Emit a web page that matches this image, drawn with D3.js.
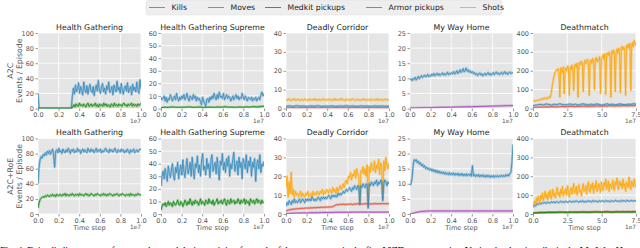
<!DOCTYPE html>
<html><head><meta charset="utf-8">
<script src="https://cdn.jsdelivr.net/npm/d3@7"></script>
<style>body{margin:0;background:#fff}svg{display:block}</style>
</head><body><svg id="c" width="640" height="248"></svg>
<script>
// ---------- DATA ----------
const seriesNames = ["Kills","Moves","Medkit pickups","Armor pickups","Shots"];
const titles = ["Health Gathering","Health Gathering Supreme","Deadly Corridor","My Way Home","Deathmatch"];
const rowLabels = [["A2C","Events / Episode"],["A2C+RoE","Events / Episode"]];
const xMaxes = [1e7,1e7,1e7,1e7,7.5e7];
const yMaxes = [100,60,40,25,400];
const yTickSteps = [20,10,10,5,100];
const xTicksShort = [0,0.2e7,0.4e7,0.6e7,0.8e7,1e7];
const xTicksLong = [0,2.5e7,5e7,7.5e7];

// Row 1: A2C
const hgA2C_moves = [20,1,0.3,0.3,0.3,0.3,0.3,0.3,0.3,0.3,0.3,0.3,0.3,0.3,0.3,0.3,0.3,0.3,0.3,0.3,0.3,0.3,0.3,0.3,0.3,0.3,0.3,0.3,0.3,0.3,0.3,0.3,0.3,16,27,19,31,22,26,34,20,29,24,18,35,25,21,30,19,27,32,23,21,29,17,26,31,23,37,25,20,28,33,22,27,19,30,25,35,21,24,29,18,31,26,22,36,24,28,20,33,25,19,27,30,23,34,21,26,29,18,32,24,28,22,35,25,20,38,26];
const hgA2C_medkit = [1,0.2,0.2,0.2,0.2,0.2,0.2,0.2,0.2,0.2,0.2,0.2,0.2,0.2,0.2,0.2,0.2,0.2,0.2,0.2,0.2,0.2,0.2,0.2,0.2,0.2,0.2,0.2,0.2,0.2,0.2,0.2,0.2,3,5,2,6,4,3,7,4,5,3,6,4,2,5,7,3,4,6,3,5,4,7,3,5,2,6,4,5,3,7,4,6,3,5,4,2,6,5,3,7,4,5,3,6,4,5,3,6,7,4,5,3,6,4,5,7,3,6,4,5,3,6,4,5,7];
const hgA2C_shots = [0.8,0.6,0.7,0.5,0.6,0.8,0.7,0.6,0.9,0.7,0.8,0.6,0.9,0.7,0.8,1,0.7,0.9,0.8,1,0.9];
const hgsA2C_moves = [9,7,8,10,6,9,5,8,7,11,9,6,8,10,7,12,8,6,9,7,10,8,11,7,9,12,8,6,10,9,7,11,8,10,6,9,7,8,5,3,9,6,4,2,7,8,5,9,7,10,8,12,9,7,11,8,13,9,10,8,12,7,9,11,8,10,9,6,8,10,7,9,11,8,10,7,9,8,12,9,7,10,8,6,9,8,7,9,6,8,7,9,6,8,9,7,11,13,10,12];
const hgsA2C_medkit = [0.5,1,0.8,1.2,1,0.9,1.1,1,1.3,0.9,1,1.2,0.8,1,1.1,0.9,1.2,1,1.4,1,1.1,0.9,1.2,1,1.3,1.1,1.5,1.2,1.6,1.8];
const dcA2C_shots = [4.2,4.8,4.4,5.1,4.5,4.1,4.9,4.6,5.2,4.3,4.7,4.4,5,4.5,4.2,4.9,4.6,4.3,5.1,4.7,4.4,4.8,4.2,5,4.6,4.4,4.9,4.5,5.2,4.3,4.7,4.5,4.9,4.2,4.8,4.6,5.1,4.4,4.7,4.3,4.9,4.5,5,4.6,4.2,4.8,4.4,5.2,4.5,4.7,4.3,4.9,4.6,5.3,4.4,4.8,4.5,4.2,5,4.6,4.4,4.9,4.3,4.7,5.1,4.5,4.8,4.2,4.6,5,4.4,4.7,4.3,4.9,4.5,5.1,4.6,4.2,4.8,4.4,4.7,5,4.3,4.6,4.9,4.4,4.8,4.5,5.2,4.3,4.7,4.5,4.9,4.2,4.6,5,4.4,4.8,4.5,4.6];
const dcA2C_moves = [1.2,1.4,1.1,1.5,1.2,1.3,1.1,1.4,1.2,1.5,1.1,1.3,1.2,1.4,1.1,1.3,1.2,1.5,1.2,1.3,1.1,1.4,1.2,1.3,1.1,1.4,1.2,1.3,1.2,1.3];
const dcA2C_kills = [0.3,0.4,0.3,0.4,0.3,0.4,0.3,0.4,0.3,0.4,0.3,0.4,0.3,0.4,0.3,0.4,0.3,0.4,0.3,0.4];
const mwhA2C_moves = [9.5,9.8,9.2,10,9.6,10.3,9.4,10.1,10.6,9.8,10.4,10.9,10.2,10.6,11.1,10.4,10.8,11.3,10.5,11,10.7,11.4,10.9,11.6,10.8,11.2,11.7,11,11.5,10.9,11.3,11.8,11.1,11.6,11,11.4,12,11.2,11.7,11.3,11.9,11.5,12.2,11.4,11.8,12.5,11.6,12.1,12.8,11.9,12.4,13.2,12.1,12.6,13.4,12.3,12.8,12,12.5,11.8,12.2,11.5,11.9,11.2,11.6,10.9,11.4,11.8,11.1,11.5,10.8,11.3,11.7,11,11.4,11.9,11.2,11.6,11,11.5,11.9,11.2,11.7,12.1,11.4,11.8,11.2,11.6,12,11.3,11.7,12.2,11.5,11.9,11.3,11.8,12.1,11.5,11.9,11.6];
const mwhA2C_armor = [0.2,0.2,0.25,0.3,0.3,0.35,0.4,0.4,0.45,0.5,0.55,0.6,0.6,0.65,0.7,0.75,0.8,0.85,0.9,0.95,1];
const dmA2C_shots = [38,40,42,39,44,41,46,43,48,45,52,47,55,50,58,53,49,60,55,62,58,80,110,140,165,185,195,205,200,210,195,60,215,200,190,220,80,205,215,198,225,210,70,220,205,230,212,95,225,235,218,240,60,228,245,232,250,238,90,242,255,236,248,260,245,70,252,258,240,265,250,100,258,270,246,262,255,275,80,262,270,285,260,290,75,278,295,282,300,270,60,305,288,310,295,90,300,315,292,320,305,85,318,330,310,325,312,70,335,322,340,318,345,95,330,350,325,360,338,345];
const dmA2C_moves = [15,18,20,22,19,24,21,18,23,20,25,22,19,21,24,20,23,18,22,25,21,19,23,20,24,22,18,21,25,20,23,19,22,24,21,20,23,22,25,24];
const dmA2C_kills = [5,6,7,8,7,9,8,10,9,8,10,11,9,10,12,11,10,12,11,13,12,11,13,12,14,13,12,14,13,15,14,13,15,14,16,15,14,16,15,17];

// Row 2: A2C+RoE
const hgRoE_moves = [40,62,72,76,74,79,77,81,78,83,80,84,79,82,86,78,62,83,85,81,87,82,84,80,86,83,81,85,82,87,84,80,85,83,86,81,84,82,87,83,85,80,84,86,82,85,83,81,87,84,82,86,83,85,81,84,87,82,85,83,86,81,84,82,85,87,83,84,81,86,83,85,82,84,87,83,81,85,84,82,86,83,85,81,84,82,86,83,80,85,82,84,86,81,83,85,82,84,86,85];
const hgRoE_medkit = [8,15,19,21,22,23,22,24,23,25,24,23,25,24,26,24,25,23,26,25,24,26,25,24,26,25,27,24,26,25,24,26,25,27,25,24,26,25,26,24,27,25,26,25,24,26,27,25,26,24,25,27,26,25,24,26,25,27,26,25,24,26,25,27,25,26,24,26,25,27,26,25,24,26,25,26,27,25,24,26,25,27,26,25,24,26,25,26,24,27,25,26,25,24,26,25,27,26,25,26];
const hgsRoE_moves = [22,30,34,28,36,31,26,38,33,29,35,40,30,27,37,33,41,28,35,39,31,43,34,29,38,44,32,36,41,30,45,35,28,40,37,46,33,39,30,42,48,35,38,31,44,36,40,29,43,47,34,38,41,32,45,37,27,42,39,48,35,41,33,44,38,46,30,40,36,43,49,34,39,42,31,45,37,41,28,44,40,36,47,33,42,38,45,30,41,37,44,26,39,43,36,47,33,40,38,42];
const hgsRoE_medkit = [3,6,8,7,9,6,8,10,7,9,8,6,10,8,7,9,11,8,7,10,9,6,8,11,9,7,10,8,12,9,7,10,8,11,9,10,7,9,12,8,10,9,7,11,10,8,12,9,10,8,11,7,9,10,12,8,10,9,11,8,10,12,9,7,11,10,8,12,9,10,11,8,10,9,12,10,8,11,9,10,12,8,11,9,10,7,12,10,9,11,8,10,12,9,11,10,8,11,9,10];
const dcRoE_shots = [14,20,9,17,11,22,10,13,9,12,10,11,9,10,12,9,11,10,9,11,10,12,9,10,11,9,12,10,11,10,12,11,10,12,11,13,10,12,11,13,12,11,13,12,11,14,12,13,11,14,12,13,15,13,14,16,14,17,18,16,20,19,22,18,21,20,23,19,24,21,20,6,23,22,25,21,24,20,26,4,25,22,27,24,23,28,22,26,24,29,21,27,25,8,28,23,30,26,24,27];
const dcRoE_moves = [4,6,5,7,6,5,7,6,8,6,7,6,7,8,6,7,8,7,6,8,7,8,7,8,7,9,8,7,8,7,8,9,8,7,9,8,9,8,9,8,9,10,9,8,10,9,10,9,10,9,11,10,11,10,11,12,11,12,13,12,13,14,13,12,14,13,15,14,13,15,14,5,15,14,16,15,14,16,15,3,16,15,17,16,15,17,16,18,15,17,16,18,17,7,16,18,17,15,17,16];
const dcRoE_kills = [1.5,2,2.2,2.4,2.5,2.6,2.8,2.7,2.9,3,3,3.1,3.2,3.1,3.3,3.2,3.4,3.3,3.5,3.4,3.6,3.5,3.6,3.7,3.6,3.8,3.7,4,4.5,5,4.8,5.2,5,5.3,4.9,5.2,5.1,5.4,5,5.3,5.2,5.5,5.1,5.4,5.2,5.5,5.3,5.6,5.2,5.4,5.3,5.6,5.4,5.5,5.3,5.6,5.4,5.5,5.4,5.6];
const dcRoE_armor = [0.2,0.3,0.4,0.5,0.5,0.6,0.6,0.7,0.7,0.7,0.8,0.8,0.8,0.8,0.9,0.9,0.9,0.9,0.9,1,1,1,1,1,1,1,1,1,1,1];
const mwhRoE_moves = [9.5,10,12,16,18,17.5,18,17,17.5,16.5,17,16,16.5,15.5,16,15,15.5,14.8,15.2,14.5,15,14.2,14.8,14,14.6,13.8,14.4,13.6,14.2,13.5,14,13.4,13.9,13.2,13.8,13.1,13.6,13,13.7,12.9,13.5,13,13.6,12.8,13.4,12.9,13.5,12.7,13.3,12.8,13.4,12.6,13.2,12.7,13.3,12.6,13.2,12.8,13.3,12.5,16,12.6,13.1,12.4,13,12.5,13.1,12.3,12.9,12.4,13,12.3,12.8,12.2,12.9,12.3,12.8,12.1,12.7,12.2,12.8,12.1,12.7,12.3,12.8,12.2,12.7,12.4,12.9,12.3,12.8,12.4,13,12.5,13.1,12.6,13.4,13.8,17,23];
const mwhRoE_armor = [0,0.3,0.6,0.8,0.9,1,1,1,1,1,1,1,1,1,1,1,1,1,1,1,1,1,1,1,1,1,1,1,1,1];
const dmRoE_shots = [40,55,70,50,85,65,95,75,60,100,80,110,70,95,120,85,105,75,115,90,125,80,100,130,95,110,85,120,140,100,115,90,130,105,145,95,120,110,135,100,150,115,90,125,140,105,130,160,110,120,145,100,135,155,115,125,95,140,160,120,130,150,105,145,170,125,115,155,135,165,110,150,140,175,120,130,160,145,115,170,140,125,165,150,185,130,145,175,120,160,150,135,180,145,125,170,155,190,140,130,175,150,165,135,185,145,160,120,170,155,140,195,150,130,175,160,145,185,155,140];
const dmRoE_moves = [35,48,42,55,50,58,52,60,57,62,55,63,60,58,65,61,64,59,66,62,60,67,63,65,61,68,64,62,69,65,63,67,64,70,66,62,68,65,71,63,67,64,70,66,68,63,72,65,69,67,64,71,66,70,68,65,72,67,69,64,71,68,66,73,69,67,70,65,72,68,71,66,73,69,67,72,70,68,71,69];
const dmRoE_kills = [5,6,7,8,9,8,9,10,9,10,11,10,9,10,11,10,11,10,11,12,11,10,11,12,11,12,11,12,13,12,11,12,13,12,13,12,13,12,13,13];
const dmRoE_medkit = [4,6,7,8,7,8,9,8,9,8,9,10,9,8,9,10,9,10,9,10,9,10,9,10,11,10,9,10,11,10,9,10,11,10,11,10,11,10,11,10];

// ---------- BUILD ----------
const colors = {"Kills":"#E24A33","Moves":"#348ABD","Medkit pickups":"#108a10","Armor pickups":"#a848b8","Shots":"#FFA500"};
const panelSeries = [
  [ {"Shots":hgA2C_shots,"Moves":hgA2C_moves,"Medkit pickups":hgA2C_medkit},
    {"Moves":hgsA2C_moves,"Medkit pickups":hgsA2C_medkit},
    {"Kills":dcA2C_kills,"Moves":dcA2C_moves,"Shots":dcA2C_shots},
    {"Moves":mwhA2C_moves,"Armor pickups":mwhA2C_armor},
    {"Kills":dmA2C_kills,"Moves":dmA2C_moves,"Shots":dmA2C_shots} ],
  [ {"Moves":hgRoE_moves,"Medkit pickups":hgRoE_medkit},
    {"Moves":hgsRoE_moves,"Medkit pickups":hgsRoE_medkit},
    {"Kills":dcRoE_kills,"Moves":dcRoE_moves,"Armor pickups":dcRoE_armor,"Shots":dcRoE_shots},
    {"Moves":mwhRoE_moves,"Armor pickups":mwhRoE_armor},
    {"Kills":dmRoE_kills,"Medkit pickups":dmRoE_medkit,"Moves":dmRoE_moves,"Shots":dmRoE_shots} ]
];
const drawOrder = ["Shots","Kills","Moves","Medkit pickups","Armor pickups"];
const dmOrder = ["Kills","Medkit pickups","Moves","Shots"];

const svg = d3.select("#c");
const FONT = "DejaVu Sans";
const lefts = [38,161,286,410,533];
const W = 103;
const tops = [33,138.5];
const H = 75.5;

// legend
const lg = svg.append("g");
lg.append("rect").attr("x",146).attr("y",0.5).attr("width",356).attr("height",14.5).attr("rx",2)
  .attr("fill","#eeeeee").attr("stroke","#dddddd").attr("stroke-width",0.5);
const legX = [149,208,265,366,460];
seriesNames.forEach((n,i)=>{
  lg.append("line").attr("x1",legX[i]).attr("x2",legX[i]+16).attr("y1",7.5).attr("y2",7.5)
    .attr("stroke",colors[n]).attr("stroke-width",1).attr("opacity",0.8);
  lg.append("text").attr("x",legX[i]+22.5).attr("y",10.3).attr("font-family",FONT).attr("font-size",7.7)
    .attr("fill","#222").text(n);
});

for (let r=0;r<2;r++){
  for (let c=0;c<5;c++){
    const x0 = lefts[c], y0 = tops[r];
    const g = svg.append("g").attr("transform",`translate(${x0},${y0})`);
    const xs = d3.scaleLinear().domain([0,xMaxes[c]]).range([0,W]);
    const ys = d3.scaleLinear().domain([0,yMaxes[c]]).range([H,0]);
    g.append("rect").attr("width",W).attr("height",H).attr("fill","#e5e5e5");
    const yt = d3.range(0,yMaxes[c]+0.001,yTickSteps[c]);
    const xt = c===4 ? xTicksLong : xTicksShort;
    // grid
    g.selectAll(".gy").data(yt).enter().append("line").attr("x1",0).attr("x2",W)
      .attr("y1",d=>ys(d)).attr("y2",d=>ys(d)).attr("stroke","#fff").attr("stroke-width",0.8);
    g.selectAll(".gx").data(xt).enter().append("line").attr("y1",0).attr("y2",H)
      .attr("x1",d=>xs(d)).attr("x2",d=>xs(d)).attr("stroke","#fff").attr("stroke-width",0.8);
    // axes
    const ya = g.append("g").call(d3.axisLeft(ys).tickValues(yt).tickSize(2.5).tickPadding(1.5).tickFormat(d3.format("d")));
    const xa = g.append("g").attr("transform",`translate(0,${H})`)
      .call(d3.axisBottom(xs).tickValues(xt).tickSize(2.5).tickPadding(1.5).tickFormat(d=>(d/1e7).toFixed(1)));
    [ya,xa].forEach(a=>{
      a.select(".domain").remove();
      a.selectAll("line").attr("stroke","#555").attr("stroke-width",0.6);
      a.selectAll("text").attr("font-family",FONT).attr("font-size",6.5).attr("fill","#555");
    });
    // clip
    const cid = `clip${r}${c}`;
    g.append("clipPath").attr("id",cid).append("rect").attr("width",W).attr("height",H);
    const pg = g.append("g").attr("clip-path",`url(#${cid})`);
    const ser = panelSeries[r][c];
    const order = c===4 ? dmOrder : drawOrder;
    order.forEach(name=>{
      const vals = ser[name]; if(!vals) return;
      const step = xMaxes[c]/(vals.length-1);
      const line = d3.line().x((d,i)=>xs(i*step)).y(d=>ys(d));
      const op = (r===0&&c===0&&name==="Shots") ? 0.25 : 1;
      pg.append("path").attr("d",line(vals)).attr("fill","none").attr("stroke",colors[name])
        .attr("stroke-width",2.4).attr("opacity",0.35*op).attr("stroke-linejoin","round");
      pg.append("path").attr("d",line(vals)).attr("fill","none").attr("stroke",colors[name])
        .attr("stroke-width",0.9).attr("opacity",0.9*op).attr("stroke-linejoin","round");
    });
    // title
    g.append("text").attr("x",W/2).attr("y",-3.3).attr("text-anchor","middle").attr("font-family",FONT)
      .attr("font-size",7.8).attr("fill","#222").text(titles[c]);
    // offset text
    g.append("text").attr("x",W).attr("y",H+(r===0?14.5:15)).attr("text-anchor","end").attr("font-family",FONT)
      .attr("font-size",5.8).attr("fill","#555").text("1e7");
    if (r===1){
      g.append("text").attr("x",W/2).attr("y",H+15.5).attr("text-anchor","middle").attr("font-family",FONT)
        .attr("font-size",6.6).attr("fill","#555").text("Time step");
    }
  }
  // row labels
  const cy = tops[r]+H/2;
  svg.append("text").attr("transform",`translate(13.3,${cy}) rotate(-90)`).attr("text-anchor","middle")
    .attr("font-family",FONT).attr("font-size",7.8).attr("fill","#555").text(rowLabels[r][0]);
  svg.append("text").attr("transform",`translate(22.3,${cy}) rotate(-90)`).attr("text-anchor","middle")
    .attr("font-family",FONT).attr("font-size",7.8).attr("fill","#555").text(rowLabels[r][1]);
}

// caption (cut off by page edge)
svg.append("text").attr("x",0).attr("y",253.5).attr("font-family","Liberation Serif").attr("font-size",10.5)
  .attr("fill","#111").attr("textLength",640).attr("lengthAdjust","spacing")
  .text("Fig. 4: Episodic line curves of events observed during training for each of the event types in the five ViZDoom scenarios. Notice the drastic spike in the My Way Home");
</script></body></html>
